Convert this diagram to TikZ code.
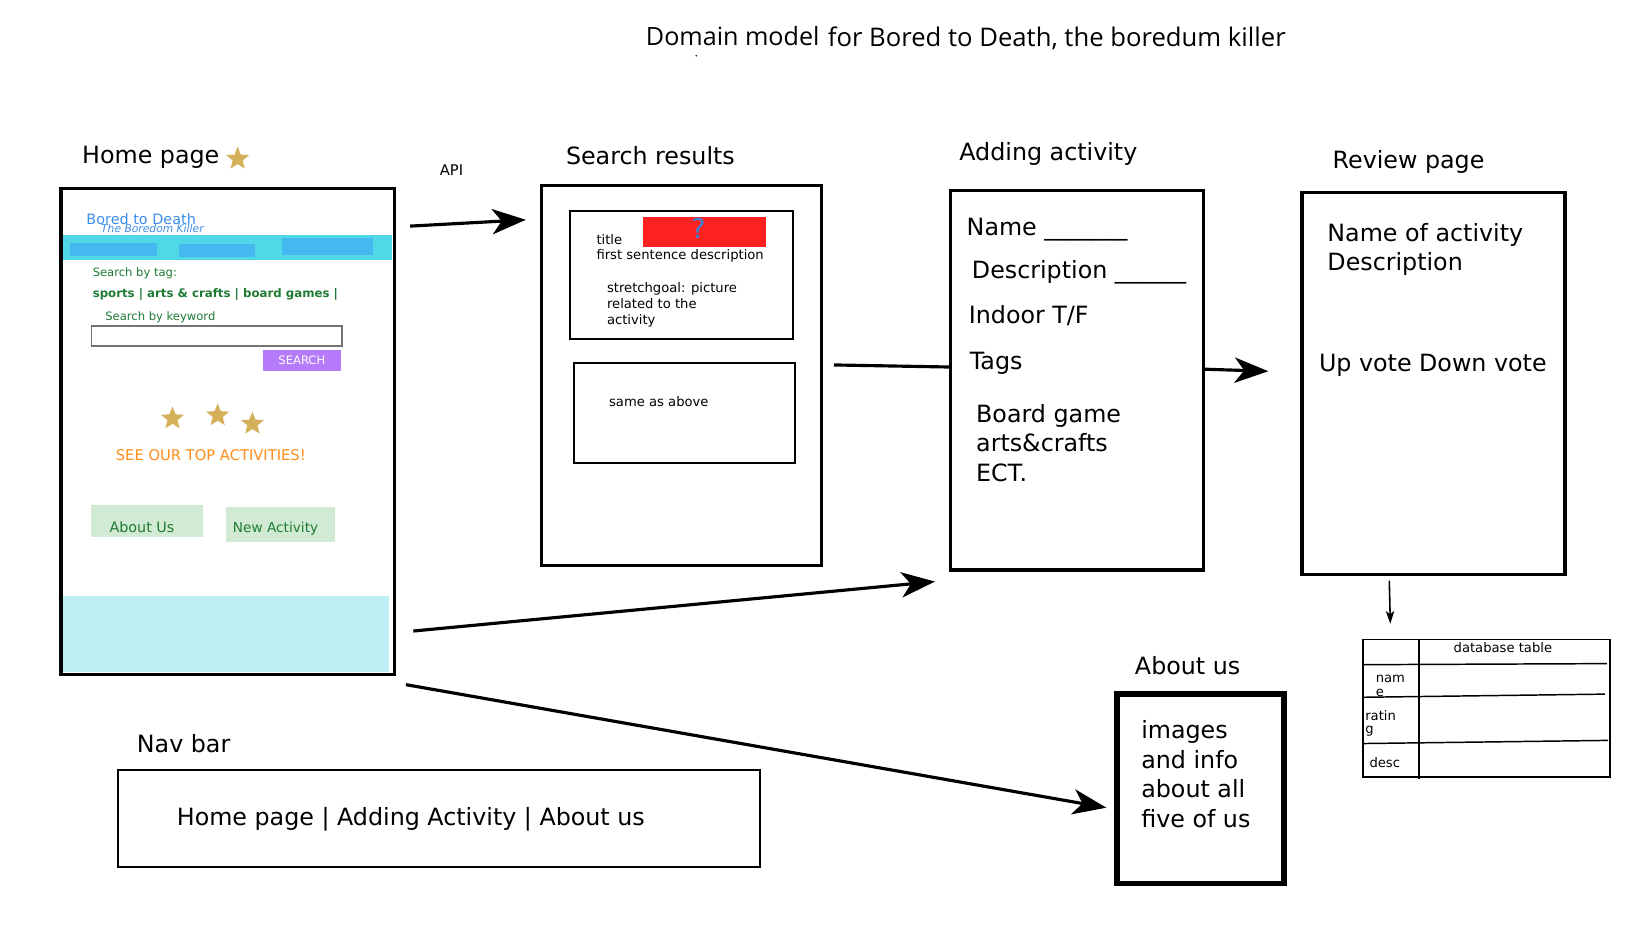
\documentclass[tikz,border=0pt]{standalone}
\usepackage{fontspec}
\setmainfont{DejaVu Sans}
\newfontfamily\titlefont{Open Sans}
\usetikzlibrary{arrows.meta,shapes.geometric}
\definecolor{gold}{HTML}{D4B05A}
\definecolor{webblue}{HTML}{3D8EEA}
\definecolor{barcyan}{HTML}{50D8E8}
\definecolor{tabblue}{HTML}{45B8F0}
\definecolor{webgreen}{HTML}{1E7B34}
\definecolor{btnpurple}{HTML}{B57BFA}
\definecolor{webornge}{HTML}{FF8C1A}
\definecolor{btngreen}{HTML}{D0EAD3}
\definecolor{footcyan}{HTML}{BEEFF5}
\definecolor{qred}{HTML}{FF2020}
\definecolor{qblue}{HTML}{3B82D6}
\tikzset{
  lbl/.style={anchor=west, inner sep=0pt, yshift=-2pt, font=\fontsize{22.6}{28}\selectfont, align=left},
  small/.style={anchor=west, inner sep=0pt, yshift=-1pt, font=\fontsize{12.5}{15.5}\selectfont, align=left},
  dbtext/.style={anchor=west, inner sep=0pt, font=\fontsize{12.5}{14}\selectfont},
  webtext/.style={anchor=west, inner sep=0pt, yshift=-1.5pt, text=webgreen},
  frame/.style={draw, line width=3pt, inner sep=0pt, outer sep=0pt, anchor=north west},
  fillbox/.style={inner sep=0pt, outer sep=0pt, anchor=north west},
  goldstar/.style={star, star points=5, star point ratio=2.3, fill=gold, inner sep=0pt, minimum size=23pt},
  bigarrow/.style={line width=3pt, -{Stealth[length=32pt,width=24pt,inset=9pt]}},
}
\begin{document}
\begin{tikzpicture}[x=1pt,y=-1pt]
\useasboundingbox[fill=white] (0,0) rectangle (1567,881.4);

% title
\node[anchor=west, inner sep=0pt, font=\titlefont\fontsize{23.9}{28}\selectfont] (title1) at (614,34) {Domain model};
\node[anchor=west, inner sep=0pt, font=\titlefont\fontsize{24.4}{28}\selectfont] (title2) at (787,36) {for Bored to Death, the boredum killer};
\fill (662,53) circle (0.8pt);

% ---------- Home page ----------
\node[lbl] (homelbl) at (78,148) {Home page};
\node[goldstar] (hstar) at (226,151) {};
\node[frame, minimum width=317pt, minimum height=462pt] (home) at (58,179) {};
\node[fillbox, fill=barcyan, minimum width=313pt, minimum height=24pt] (navbar) at (60,223) {};
\node[fillbox, fill=tabblue, minimum width=82pt, minimum height=12pt] (tab1) at (67,231) {};
\node[fillbox, fill=tabblue, minimum width=72pt, minimum height=12pt] (tab2) at (170,232) {};
\node[fillbox, fill=tabblue, minimum width=87pt, minimum height=16pt] (tab3) at (268,226) {};
\node[anchor=west, inner sep=0pt, text=webblue, font=\fontsize{13.7}{16}\selectfont] (brand) at (82,208) {Bored to Death};
\node[anchor=west, inner sep=0pt, text=webblue, font=\itshape\fontsize{10.2}{12}\selectfont] (slogan) at (96,217.5) {The Boredom Killer};
\node[webtext, font=\fontsize{11}{12}\selectfont] (bytag) at (88,258) {Search by tag:};
\node[webtext, font=\bfseries\fontsize{11.2}{12}\selectfont] (tags) at (88,278) {sports | arts \& crafts | board games |};
\node[webtext, font=\fontsize{11}{12}\selectfont] (bykw) at (100,300) {Search by keyword};
\node[fillbox, draw=gray!90!black, line width=1.5pt, minimum width=238pt, minimum height=19pt] (input) at (87,310) {};
\node[fillbox, fill=btnpurple, minimum width=74pt, minimum height=20pt] (searchbtn) at (250,333) {};
\node[text=white, inner sep=0pt, font=\fontsize{11}{13}\selectfont] (searchtxt) at (searchbtn.center) {SEARCH};
\node[goldstar] (st1) at (164,398) {};
\node[goldstar] (st2) at (207,395) {};
\node[goldstar] (st3) at (240,403) {};
\node[webtext, text=webornge, font=\fontsize{14}{15}\selectfont] (top) at (110,431) {SEE OUR TOP ACTIVITIES!};
\node[fillbox, fill=btngreen, minimum width=106pt, minimum height=31pt] (aboutbtn) at (87,480) {};
\node[inner sep=0pt, text=webgreen, font=\fontsize{13.6}{15}\selectfont] (abouttxt) at (135,501) {About Us};
\node[fillbox, fill=btngreen, minimum width=104pt, minimum height=33pt] (newbtn) at (215,482) {};
\node[inner sep=0pt, text=webgreen, font=\fontsize{13}{15}\selectfont] (newtxt) at (262,503) {New Activity};
\node[fillbox, fill=footcyan, minimum width=310pt, minimum height=72pt] (footer) at (60,567) {};

% ---------- Search results ----------
\node[anchor=west, inner sep=0pt, font=\fontsize{14}{16}\selectfont] (api) at (418,162) {API};
\node[lbl] (searchlbl) at (538,146) {Search results};
\node[frame, minimum width=266pt, minimum height=362pt] (results) at (515,176) {};
\node[frame, line width=2pt, minimum width=212pt, minimum height=121pt] (card1) at (542,201) {};
\node[fillbox, fill=qred, minimum width=117pt, minimum height=29pt] (pic) at (611,206) {};
\node[inner sep=0pt, text=qblue, font=\fontsize{26}{28}\selectfont] (qmark) at (664,217) {?};
\node[small] (ctitle) at (567,227) {title};
\node[small] (cdesc) at (567,242) {first sentence description};
\node[small, anchor=north west] (cstretch) at (577,267) {stretchgoal: picture\\related to the\\activity};
\node[frame, line width=2pt, minimum width=210pt, minimum height=95pt] (card2) at (546,345) {};
\node[small] (csame) at (579,381) {same as above};

% ---------- Adding activity ----------
\node[lbl] (addlbl) at (912,144) {Adding activity};
\node[frame, minimum width=240pt, minimum height=361pt] (adding) at (904,181) {};
\node[lbl] (fname) at (919,216) {Name \_\_\_\_\_\_\_};
\node[lbl] (fdesc) at (924,257) {Description \_\_\_\_\_\_};
\node[lbl] (findoor) at (921,298) {Indoor T/F};
\node[lbl] (ftags) at (922,343) {Tags};
\node[lbl, anchor=north west] (ftaglist) at (928,382) {Board game\\arts\&crafts\\ECT.};

% ---------- Review page ----------
\node[lbl] (revlbl) at (1267,152) {Review page};
\node[frame, minimum width=250pt, minimum height=363pt] (review) at (1238,183) {};
\node[lbl, anchor=north west] (revtxt) at (1262,210) {Name of activity\\Description};
\node[lbl] (votes) at (1254,345) {Up vote Down vote};

% ---------- database table ----------
\node[frame, line width=1.6pt, minimum width=235pt, minimum height=131pt] (db) at (1296,608) {};
\draw[line width=1.6pt] (1349,608) -- (1349,741);
\draw[line width=1.4pt] (1296,632) -- (1528,631);
\draw[line width=1.4pt] (1296,663) -- (1526,660);
\draw[line width=1.4pt] (1296,707) -- (1529,704);
\node[dbtext, anchor=center] (dbtitle) at (1429,616) {database table};
\node[dbtext] (dbname) at (1308,646) {nam};
\node[dbtext] (dbname2) at (1308,659) {e};
\node[dbtext] (dbrat) at (1298,680) {ratin};
\node[dbtext] (dbrat2) at (1298,695) {g};
\node[dbtext] (dbdesc) at (1302,725) {desc};

% ---------- About us ----------
\node[lbl] (aboutlbl) at (1079,631) {About us};
\node[frame, line width=5pt, minimum width=159pt, minimum height=180pt] (about) at (1062,660) {};
\node[lbl, anchor=north west] (abouttext) at (1085,683) {images\\and info\\about all\\five of us};

% ---------- Nav bar ----------
\node[lbl] (navlbl) at (130,705) {Nav bar};
\node[frame, line width=2pt, minimum width=611pt, minimum height=92pt] (nav) at (112,732) {};
\node[lbl] (navtext) at (168,777) {Home page | Adding Activity | About us};

% ---------- connectors ----------
\coordinate (a1s) at (390,215);
\coordinate (a1e) at (500,209);
\coordinate (l2s) at (793,347);
\coordinate (a3e) at (1206,353);
\coordinate (a4s) at (1321,552);
\coordinate (a4e) at (1322,593);
\coordinate (a5s) at (393,600);
\coordinate (a5e) at (889,553);
\coordinate (a6s) at (386,651);
\coordinate (a6e) at (1052,768);
\draw[bigarrow] (a1s) -- (a1e);
\draw[line width=3pt] (l2s) -- (adding.west |- 0,349);
\draw[bigarrow] (adding.east |- 0,351) -- (a3e);
\draw[line width=1.5pt, -{Stealth[length=12pt,width=8pt,inset=3pt]}] (a4s) -- (a4e);
\draw[bigarrow] (a5s) -- (a5e);
\draw[bigarrow] (a6s) -- (a6e);
\end{tikzpicture}
\end{document}
